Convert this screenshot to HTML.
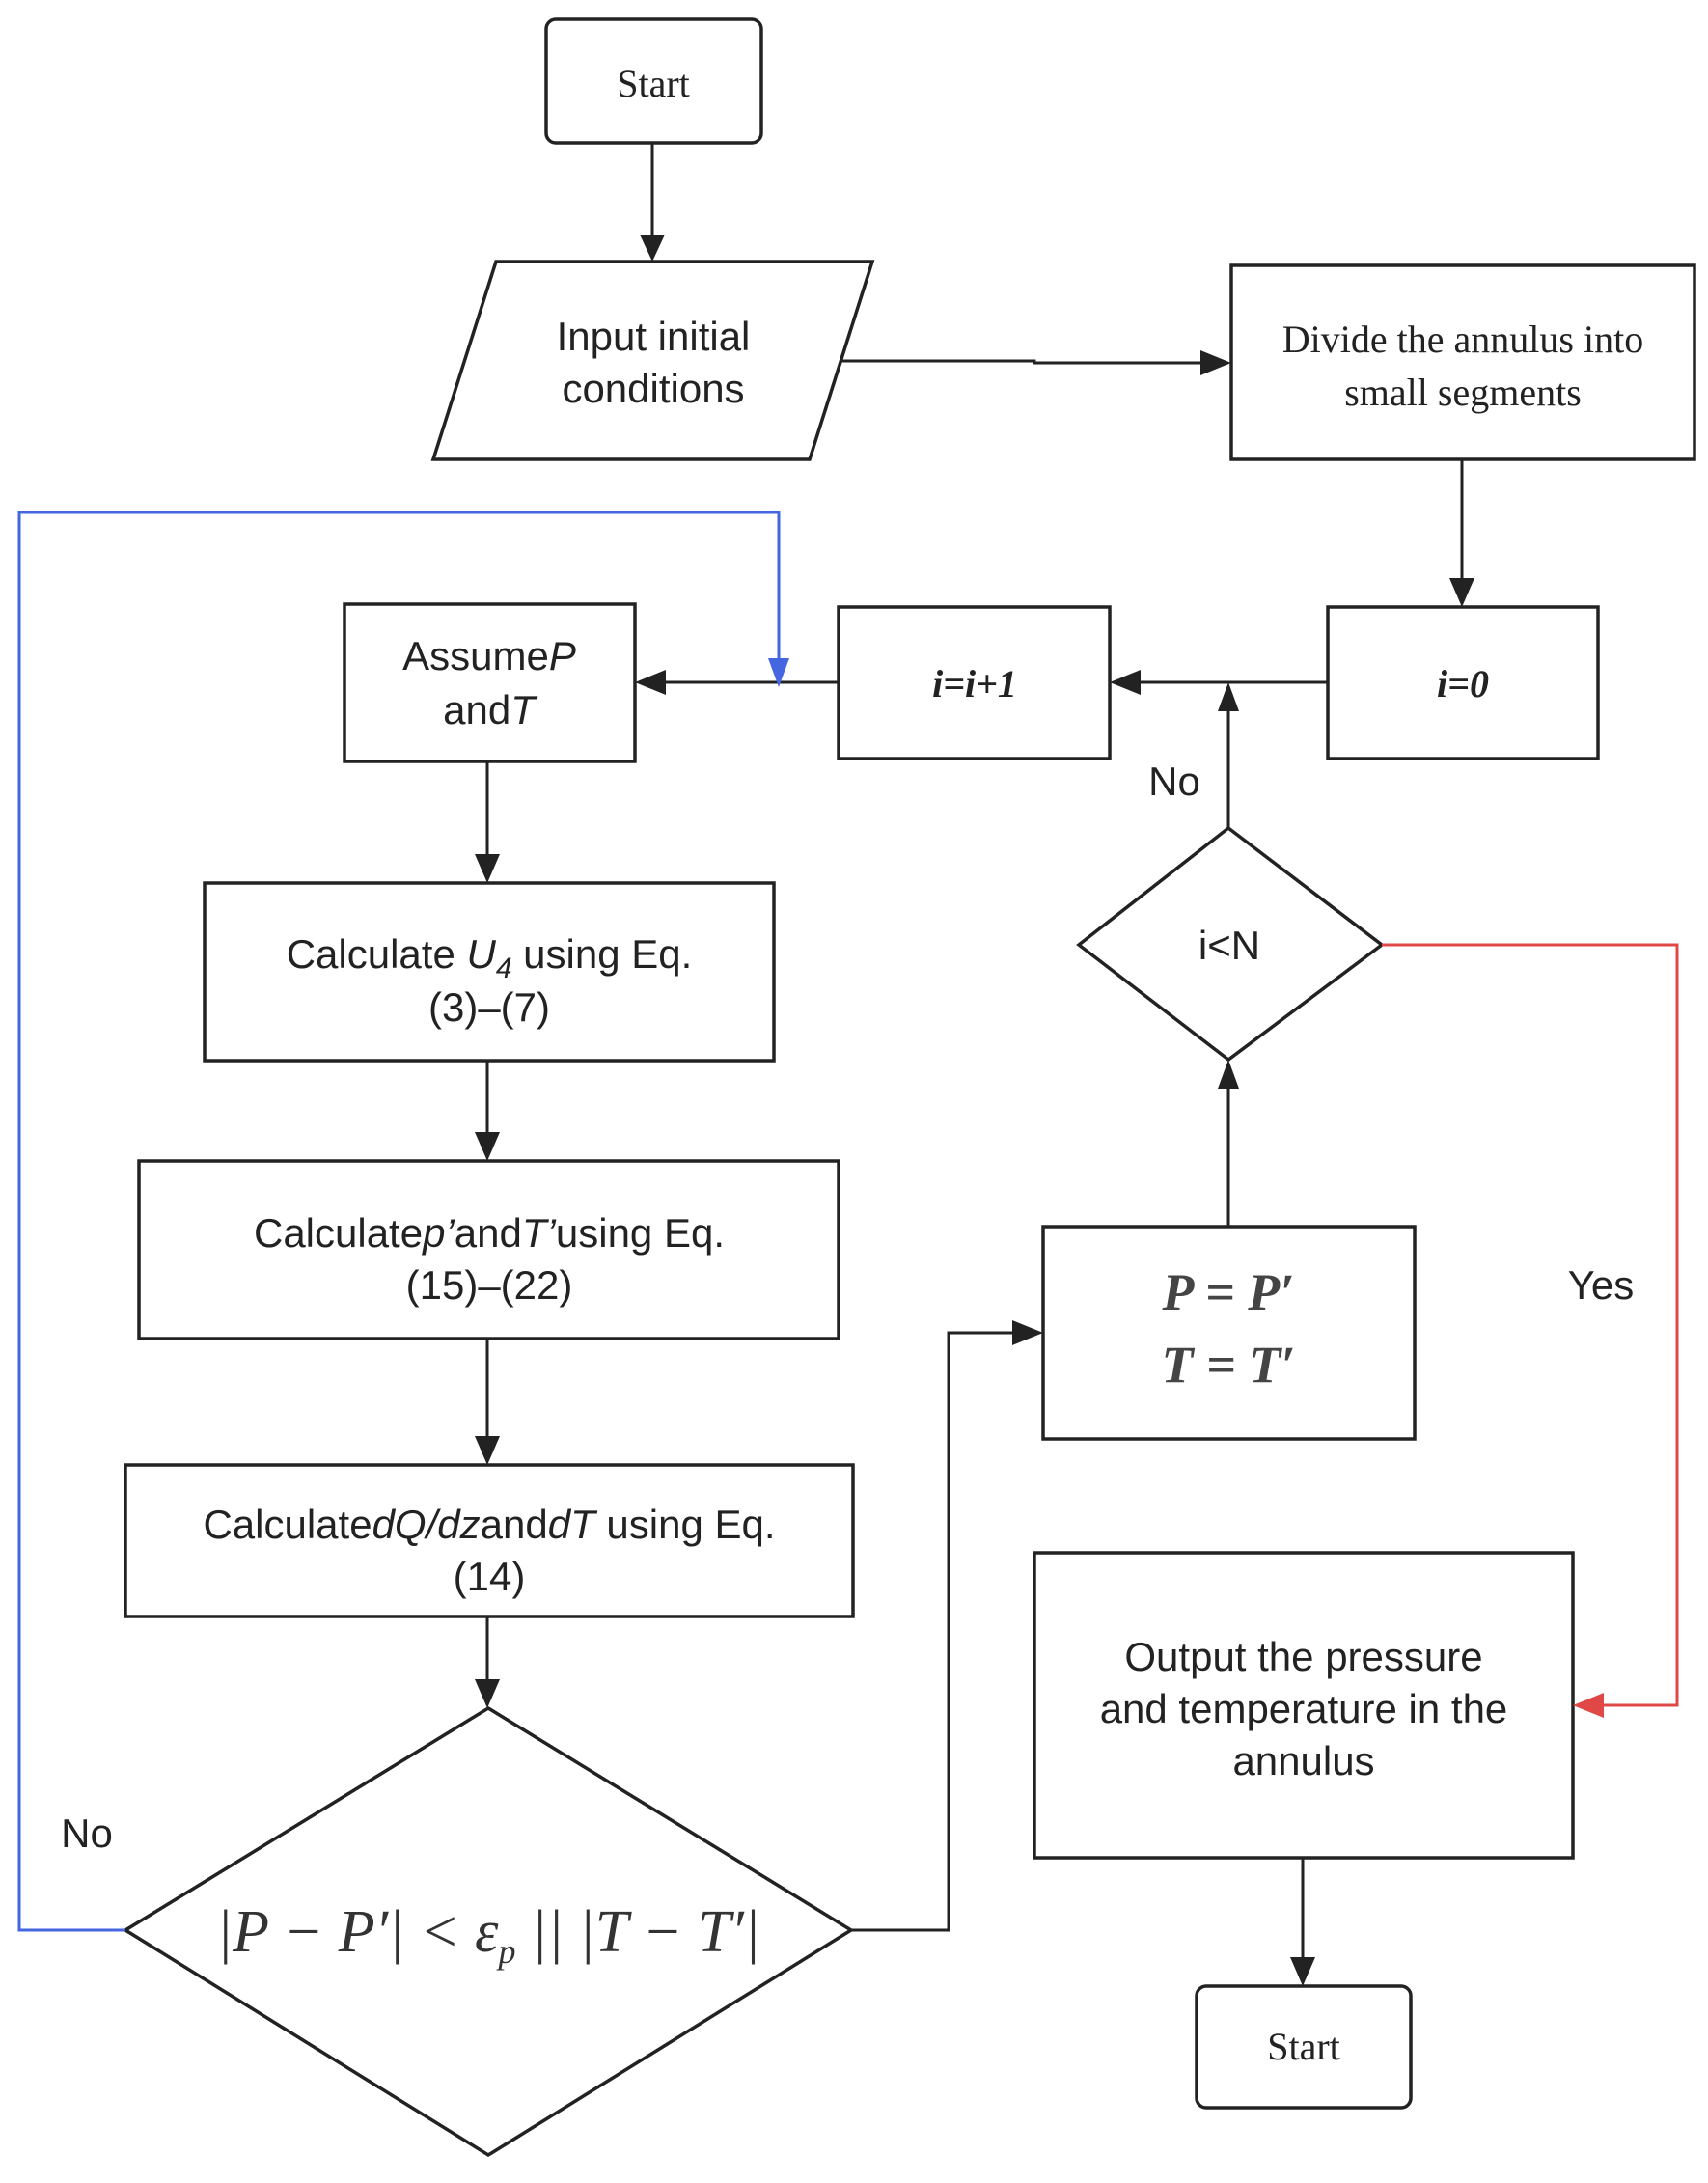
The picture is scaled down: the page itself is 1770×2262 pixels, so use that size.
<!DOCTYPE html>
<html><head><style>html,body{margin:0;padding:0;background:#fff}</style></head>
<body>
<svg width="1770" height="2257" viewBox="0 0 1770 2257" xmlns="http://www.w3.org/2000/svg">
<style>
.b{fill:#fff;stroke:#222;stroke-width:3.5}
.l{fill:none;stroke:#222;stroke-width:3}
.s{font-family:"Liberation Sans",sans-serif;font-size:42px;fill:#222;text-anchor:middle}
.r{font-family:"Liberation Serif",serif;font-size:40px;fill:#222;text-anchor:middle}
</style>
<rect class="b" x="566" y="20" width="223" height="128" rx="10"/>
<polygon class="b" points="514,271 904,271 839,476 449,476"/>
<rect class="b" x="1276" y="275" width="480" height="201"/>
<rect class="b" x="1376" y="629" width="280" height="157"/>
<rect class="b" x="869" y="629" width="281" height="157"/>
<rect class="b" x="357" y="626" width="301" height="163"/>
<rect class="b" x="212" y="915" width="590" height="184"/>
<rect class="b" x="144" y="1203" width="725" height="184"/>
<rect class="b" x="130" y="1518" width="754" height="157"/>
<polygon class="b" points="506,1770 882,2000 506,2233 130,2000"/>
<rect class="b" x="1081" y="1271" width="385" height="220"/>
<polygon class="b" points="1273,858 1432,979 1273,1098 1118,979"/>
<rect class="b" x="1072" y="1609" width="558" height="316"/>
<rect class="b" x="1240" y="2058" width="222" height="126" rx="10"/>
<g class="l">
<line x1="676" y1="148" x2="676" y2="256"/>
<polyline points="871,374 1072,374 1072,376 1260,376"/>
<line x1="1515" y1="476" x2="1515" y2="613"/>
<line x1="1376" y1="707" x2="1166" y2="707"/>
<line x1="869" y1="707" x2="674" y2="707"/>
<line x1="505" y1="789" x2="505" y2="899"/>
<line x1="505" y1="1099" x2="505" y2="1187"/>
<line x1="505" y1="1387" x2="505" y2="1502"/>
<line x1="505" y1="1675" x2="505" y2="1754"/>
<polyline points="882,2000 983,2000 983,1381 1065,1381"/>
<line x1="1273" y1="1271" x2="1273" y2="1120"/>
<line x1="1273" y1="858" x2="1273" y2="730"/>
<line x1="1350" y1="1925" x2="1350" y2="2042"/>
</g>
<g fill="#222">
<path d="M676,271 l-13,-28 h26z"/>
<path d="M1276,376 l-32,-13 v26z"/>
<path d="M1515,629 l-13,-30 h26z"/>
<path d="M1150,707 l32,-13 v26z"/>
<path d="M658,707 l32,-13 v26z"/>
<path d="M505,915 l-13,-30 h26z"/>
<path d="M505,1203 l-13,-30 h26z"/>
<path d="M505,1518 l-13,-30 h26z"/>
<path d="M505,1770 l-13,-30 h26z"/>
<path d="M1081,1381 l-32,-13 v26z"/>
<path d="M1273,1098 l-11,30 h22z"/>
<path d="M1273,707 l-11,30 h22z"/>
<path d="M1350,2058 l-13,-30 h26z"/>
</g>
<polyline points="130,2000 20,2000 20,531 807,531 807,690" fill="none" stroke="#4466e0" stroke-width="3"/>
<path d="M807,712 l-11,-30 h22z" fill="#4466e0"/>
<polyline points="1432,979 1738,979 1738,1767 1650,1767" fill="none" stroke="#e04848" stroke-width="3"/>
<path d="M1630,1767 l32,-13 v26z" fill="#e04848"/>
<text class="r" x="677" y="100">Start</text>
<text class="r" x="1351" y="2134">Start</text>
<text class="s" x="677" y="363">Input initial</text>
<text class="s" x="677" y="417">conditions</text>
<text class="r" x="1516" y="365">Divide the annulus into</text>
<text class="r" x="1516" y="420">small segments</text>
<text class="r" x="1516" y="722" font-style="italic" font-weight="bold">i=0</text>
<text class="r" x="1010" y="722" font-style="italic" font-weight="bold">i=i+1</text>
<text class="s" x="507" y="694">Assume<tspan font-style="italic">P</tspan></text>
<text class="s" x="507" y="750">and<tspan font-style="italic">T</tspan></text>
<text class="s" x="507" y="1003">Calculate <tspan font-style="italic">U<tspan font-size="30" dy="10">4</tspan></tspan><tspan dy="-10"> using Eq.</tspan></text>
<text class="s" x="507" y="1058">(3)–(7)</text>
<text class="s" x="507" y="1292">Calculate<tspan font-style="italic">p’</tspan>and<tspan font-style="italic">T’</tspan>using Eq.</text>
<text class="s" x="507" y="1346">(15)–(22)</text>
<text class="s" x="507" y="1594">Calculate<tspan font-style="italic">dQ/dz</tspan>and<tspan font-style="italic">dT</tspan> using Eq.</text>
<text class="s" x="507" y="1648">(14)</text>
<text x="506" y="2022" font-family="Liberation Serif,serif" font-size="62" font-style="italic" fill="#333" text-anchor="middle">|P − P′| &lt; ε<tspan font-size="36" dy="12">p</tspan><tspan dy="-12"> || |T − T′|</tspan></text>
<text x="1273" y="1357" font-family="Liberation Serif,serif" font-size="54" font-style="italic" font-weight="bold" fill="#444" text-anchor="middle">P = P′</text>
<text x="1273" y="1432" font-family="Liberation Serif,serif" font-size="54" font-style="italic" font-weight="bold" fill="#444" text-anchor="middle">T = T′</text>
<text class="s" x="1274" y="994">i&lt;N</text>
<text class="s" x="1217" y="824">No</text>
<text class="s" x="90" y="1914">No</text>
<text class="s" x="1659" y="1346">Yes</text>
<text class="s" x="1351" y="1731">Output the pressure</text>
<text class="s" x="1351" y="1785">and temperature in the</text>
<text class="s" x="1351" y="1839">annulus</text>
</svg>
</body></html>
